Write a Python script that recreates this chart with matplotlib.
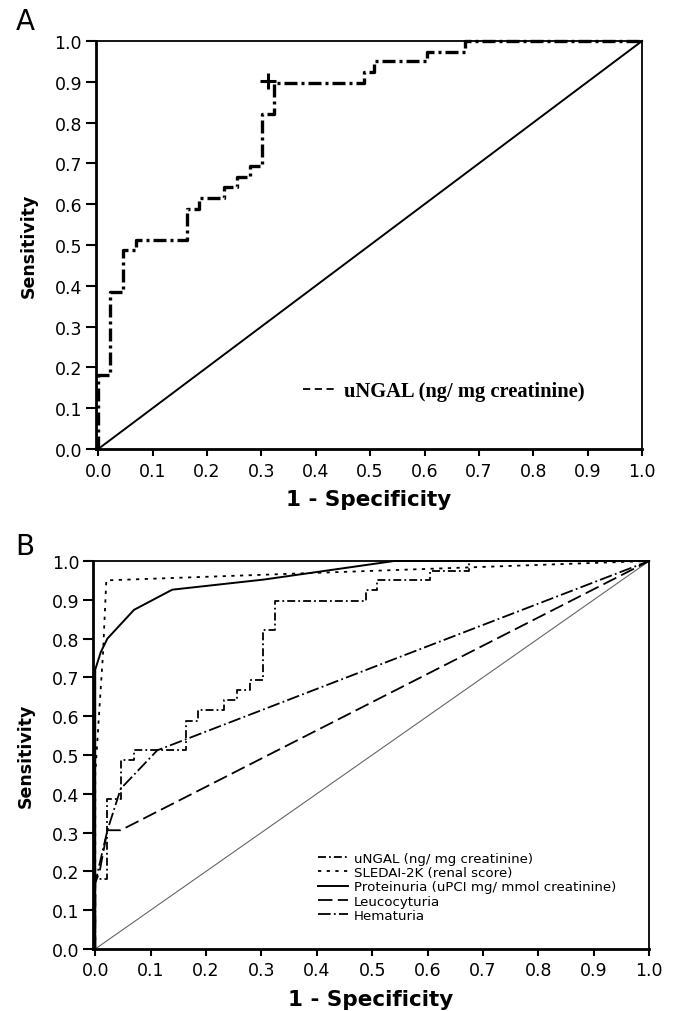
import matplotlib.pyplot as plt
from matplotlib.lines import Line2D

# uNGAL ROC curve (stepwise)
ungal_fpr = [0.0, 0.0, 0.022, 0.022, 0.046, 0.046, 0.07, 0.07, 0.163, 0.163, 0.185, 0.185,
             0.232, 0.232, 0.256, 0.256, 0.279, 0.279, 0.302, 0.302, 0.324, 0.324,
             0.488, 0.488, 0.508, 0.508, 0.605, 0.605, 0.674, 0.674, 1.0]
ungal_tpr = [0.0, 0.181, 0.181, 0.386, 0.386, 0.487, 0.487, 0.512, 0.512, 0.588, 0.588, 0.616,
             0.616, 0.642, 0.642, 0.667, 0.667, 0.693, 0.693, 0.822, 0.822, 0.898,
             0.898, 0.924, 0.924, 0.95, 0.95, 0.974, 0.974, 1.0, 1.0]
cut_fpr = [0.313]
cut_tpr = [0.903]

sledai_fpr = [0.0, 0.0, 0.008, 0.014, 0.02, 1.0]
sledai_tpr = [0.0, 0.45, 0.63, 0.76, 0.95, 1.0]

prot_fpr = [0.0, 0.0, 0.01, 0.022, 0.07, 0.139, 0.304, 0.54, 1.0]
prot_tpr = [0.0, 0.72, 0.765, 0.80, 0.874, 0.926, 0.952, 1.0, 1.0]

leuco_fpr = [0.0, 0.0, 0.008, 0.022, 0.046, 1.0]
leuco_tpr = [0.0, 0.17, 0.2, 0.306, 0.306, 1.0]

hema_fpr = [0.0, 0.0, 0.008, 0.022, 0.046, 0.112, 1.0]
hema_tpr = [0.0, 0.17, 0.22, 0.306, 0.413, 0.512, 1.0]

ref_line = [0.0, 1.0]
ticks = [i / 10 for i in range(11)]
tick_labels = ["%.1f" % t for t in ticks]

plt.rcParams['font.family'] = 'DejaVu Sans'

fig = plt.figure(figsize=(6.75, 10.12), dpi=100)
axA = fig.add_axes([0.1422, 0.5553, 0.809, 0.4032])
axB = fig.add_axes([0.1378, 0.0613, 0.824, 0.3834])


def style_axes(ax):
    ax.set_xlim(-0.004, 1.0)
    ax.set_ylim(0.0, 1.0)
    ax.set_xticks(ticks)
    ax.set_xticklabels(tick_labels)
    ax.set_yticks(ticks)
    ax.set_yticklabels(tick_labels)
    ax.tick_params(axis='x', direction='out', length=5, width=1.5, pad=4, labelsize=12.5)
    ax.tick_params(axis='y', direction='out', length=7, width=1.5, pad=3, labelsize=12.5)
    for side in ['left', 'bottom']:
        ax.spines[side].set_linewidth(2.0)
    for side in ['top', 'right']:
        ax.spines[side].set_linewidth(1.3)
    ax.set_xlabel('1 - Specificity', fontsize=15.5, fontweight='bold', labelpad=7)
    ax.set_ylabel('Sensitivity', fontsize=12.5, fontweight='bold', labelpad=12)


# ---- Panel A
axA.plot(ref_line, ref_line, color='black', lw=1.4, clip_on=False)
axA.plot(ungal_fpr, ungal_tpr, color='black', lw=2.4, dashes=(3.9, 1.2, 0.9, 1.2), clip_on=False)
axA.plot(cut_fpr, cut_tpr, marker='+', ms=11, mew=2.2, color='black', ls='none')
style_axes(axA)
hA = [Line2D([], [], color='black', lw=1.3, dashes=(4, 2.5))]
axA.legend(hA, ['uNGAL (ng/ mg creatinine)'], loc='center left', bbox_to_anchor=(0.379, 0.142),
           frameon=False, borderpad=0, borderaxespad=0, handlelength=1.6, handletextpad=0.4,
           prop={'family': 'Liberation Serif', 'size': 14.8, 'weight': 'bold'})

# ---- Panel B
axB.plot(ref_line, ref_line, color='#666666', lw=0.8, clip_on=False)
l1, = axB.plot(ungal_fpr, ungal_tpr, color='black', lw=1.3, dashes=(4.4, 1.7, 1, 1.7), clip_on=False)
l2, = axB.plot(sledai_fpr, sledai_tpr, color='black', lw=1.3, dashes=(1.8, 3.0), clip_on=False)
l3, = axB.plot(prot_fpr, prot_tpr, color='black', lw=1.4, clip_on=False)
l4, = axB.plot(leuco_fpr, leuco_tpr, color='black', lw=1.3, dashes=(8, 3), clip_on=False)
l5, = axB.plot(hema_fpr, hema_tpr, color='black', lw=1.3, dashes=(7, 1.8, 1, 1.8), clip_on=False)
style_axes(axB)
axB.legend([l1, l2, l3, l4, l5],
           ['uNGAL (ng/ mg creatinine)', 'SLEDAI-2K (renal score)',
            'Proteinuria (uPCI mg/ mmol creatinine)', 'Leucocyturia', 'Hematuria'],
           loc='upper left', bbox_to_anchor=(0.404, 0.25), frameon=False, fontsize=9.6,
           borderpad=0, borderaxespad=0, labelspacing=0.09, handlelength=2.3, handletextpad=0.4)

fig.text(0.037, 0.978, 'A', fontsize=20, ha='center', va='center')
fig.text(0.037, 0.4595, 'B', fontsize=20, ha='center', va='center')

fig.savefig('out.png', dpi=100, facecolor='white')
